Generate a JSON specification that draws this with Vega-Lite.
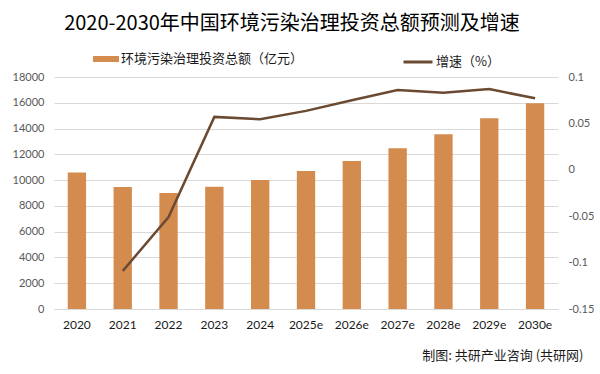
{
  "$schema": "https://vega.github.io/schema/vega-lite/v6.json",
  "width": 504,
  "height": 232,
  "autosize": {"type": "none"},
  "padding": {"left": 54, "top": 77, "right": 42, "bottom": 65},
  "background": "#ffffff",
  "title": {
    "text": "2020-2030年中国环境污染治理投资总额预测及增速",
    "font": "Noto Sans CJK SC",
    "fontSize": 20,
    "fontWeight": "normal",
    "color": "#000000",
    "anchor": "middle",
    "frame": "group",
    "dx": -14,
    "offset": 12
  },
  "config": {
    "view": {"stroke": null},
    "axis": {"labelFont": "Lato", "labelColor": "#595959"},
    "legend": {"labelFont": "Noto Sans CJK SC", "labelFontSize": 13, "labelColor": "#1a1a1a", "padding": 0, "labelLimit": 400}
  },
  "data": {
    "values": [
      {"year": "2020", "invest": 10600, "growth": null},
      {"year": "2021", "invest": 9470, "growth": -0.109},
      {"year": "2022", "invest": 9000, "growth": -0.051},
      {"year": "2023", "invest": 9480, "growth": 0.057},
      {"year": "2024", "invest": 10000, "growth": 0.0545},
      {"year": "2025e", "invest": 10700, "growth": 0.0635},
      {"year": "2026e", "invest": 11480, "growth": 0.075},
      {"year": "2027e", "invest": 12480, "growth": 0.086},
      {"year": "2028e", "invest": 13560, "growth": 0.083},
      {"year": "2029e", "invest": 14800, "growth": 0.087},
      {"year": "2030e", "invest": 15960, "growth": 0.077}
    ]
  },
  "encoding": {
    "x": {
      "field": "year",
      "type": "ordinal",
      "sort": null,
      "scale": {"paddingInner": 0.6, "paddingOuter": 0.3},
      "axis": {
        "title": "制图: 共研产业咨询 (共研网)",
        "titleFont": "Noto Sans CJK SC",
        "titleFontSize": 13,
        "titleFontWeight": "normal",
        "titleColor": "#1a1a1a",
        "titleAlign": "right",
        "titleBaseline": "middle",
        "titleAnchor": "end",
        "titleX": 529,
        "titleY": 46,
        "labelAngle": 0,
        "labelFontSize": 12,
        "labelColor": "#1a1a1a",
        "labelPadding": 10,
        "ticks": false,
        "domainColor": "#d9d9d9",
        "domainWidth": 1
      }
    }
  },
  "layer": [
    {
      "mark": {"type": "bar"},
      "encoding": {
        "y": {
          "field": "invest",
          "type": "quantitative",
          "scale": {"domain": [0, 18000], "nice": false},
          "axis": {
            "title": null,
            "values": [0, 2000, 4000, 6000, 8000, 10000, 12000, 14000, 16000, 18000],
            "format": "d",
            "labelFontSize": 11,
            "labelPadding": 10,
            "ticks": false,
            "domain": false,
            "grid": true,
            "gridColor": "#d9d9d9",
            "gridWidth": 1
          }
        },
        "color": {
          "datum": "环境污染治理投资总额（亿元）",
          "scale": {"range": ["#d38b4e"]},
          "legend": {
            "title": null,
            "orient": "none",
            "legendX": 39,
            "legendY": -31,
            "symbolType": "M-1,-0.23H1V0.23H-1Z",
            "symbolSize": 676,
            "symbolStrokeWidth": 0,
            "labelOffset": 2
          }
        }
      }
    },
    {
      "mark": {"type": "line", "strokeWidth": 2.5},
      "encoding": {
        "y": {
          "field": "growth",
          "type": "quantitative",
          "scale": {"domain": [-0.15, 0.1], "nice": false, "zero": false},
          "axis": {
            "title": null,
            "orient": "right",
            "values": [-0.15, -0.1, -0.05, 0, 0.05, 0.1],
            "labelExpr": "'' + datum.value",
            "labelFontSize": 11,
            "labelPadding": 10,
            "ticks": false,
            "domain": false,
            "grid": false
          }
        },
        "stroke": {
          "datum": "增速（%）",
          "scale": {"range": ["#6b4a32"]},
          "legend": {
            "title": null,
            "orient": "none",
            "legendX": 348,
            "legendY": -31,
            "symbolType": "stroke",
            "symbolSize": 841,
            "symbolStrokeWidth": 3,
            "labelOffset": 2
          }
        }
      }
    }
  ],
  "resolve": {"scale": {"y": "independent"}}
}
